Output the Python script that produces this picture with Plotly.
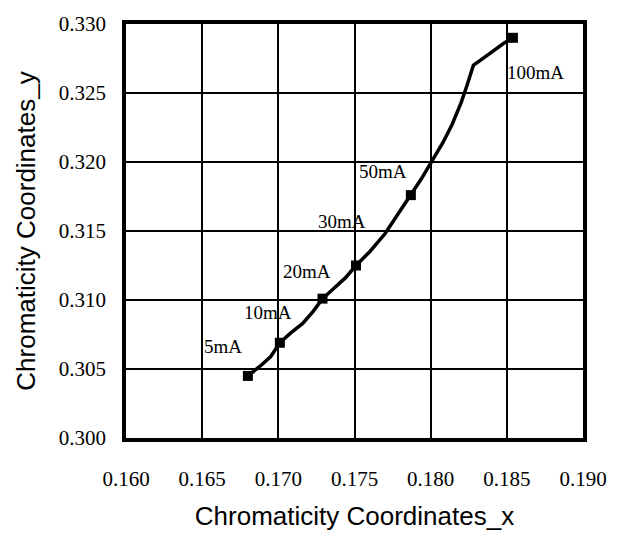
import plotly.graph_objects as go

# curve (chromaticity x, y)
curve_x = [0.1680, 0.1688, 0.1695, 0.1701, 0.1708, 0.1716, 0.1723, 0.1729, 0.1736,
           0.1744, 0.1751, 0.1760, 0.1770, 0.1779, 0.1787, 0.1794, 0.1801,
           0.1808, 0.1814, 0.1820, 0.1824, 0.1828, 0.1838, 0.1848, 0.1854]
curve_y = [0.3045, 0.3052, 0.3059, 0.3069, 0.3076, 0.3083, 0.3092, 0.3101, 0.3108,
           0.3116, 0.3125, 0.3135, 0.3148, 0.3163, 0.3176, 0.3188, 0.3201,
           0.3214, 0.3227, 0.3243, 0.3256, 0.3270, 0.3278, 0.3286, 0.3290]

# marked currents
pt_labels = ["5mA", "10mA", "20mA", "30mA", "50mA", "100mA"]
pt_x = [0.1680, 0.1701, 0.1729, 0.1751, 0.1787, 0.1854]
pt_y = [0.3045, 0.3069, 0.3101, 0.3125, 0.3176, 0.3290]
lab_x = [0.1664, 0.1693, 0.1719, 0.1742, 0.1769, 0.1869]
lab_y = [0.3066, 0.3091, 0.3121, 0.3157, 0.3193, 0.3265]

x_ticks = [0.160, 0.165, 0.170, 0.175, 0.180, 0.185, 0.190]
y_ticks = [0.300, 0.305, 0.310, 0.315, 0.320, 0.325, 0.330]

serif = "Liberation Serif"
sans = "Liberation Sans"

fig = go.Figure()
fig.add_trace(go.Scatter(x=curve_x, y=curve_y, mode="lines",
                         line=dict(color="black", width=3.5), showlegend=False))
fig.add_trace(go.Scatter(x=pt_x, y=pt_y, mode="markers",
                         marker=dict(symbol="square", size=10, color="black"),
                         showlegend=False))
for t, x, y in zip(pt_labels, lab_x, lab_y):
    fig.add_annotation(x=x, y=y, text=t, showarrow=False,
                       font=dict(family=serif, size=19, color="black"))

fig.update_layout(
    width=619, height=539,
    margin=dict(l=126, r=25, t=15, b=100),
    paper_bgcolor="white", plot_bgcolor="white",
    xaxis=dict(range=[0.160, 0.190], tickvals=x_ticks, tickformat=".3f",
               showgrid=True, gridcolor="black", gridwidth=1.8,
               showline=True, linecolor="black", linewidth=3.5, mirror=True,
               ticks="", zeroline=False, ticklabelstandoff=19,
               tickfont=dict(family=serif, size=21, color="black"),
               title=dict(text="Chromaticity Coordinates_x", standoff=18,
                          font=dict(family=sans, size=26, color="black"))),
    yaxis=dict(range=[0.300, 0.330], tickvals=y_ticks, tickformat=".3f",
               showgrid=True, gridcolor="black", gridwidth=1.8,
               showline=True, linecolor="black", linewidth=3.5, mirror=True,
               ticks="", zeroline=False, ticklabelstandoff=12,
               tickfont=dict(family=serif, size=21, color="black"),
               title=dict(text="Chromaticity Coordinates_y", standoff=17,
                          font=dict(family=sans, size=26, color="black"))),
)

fig.write_html("out.html")
